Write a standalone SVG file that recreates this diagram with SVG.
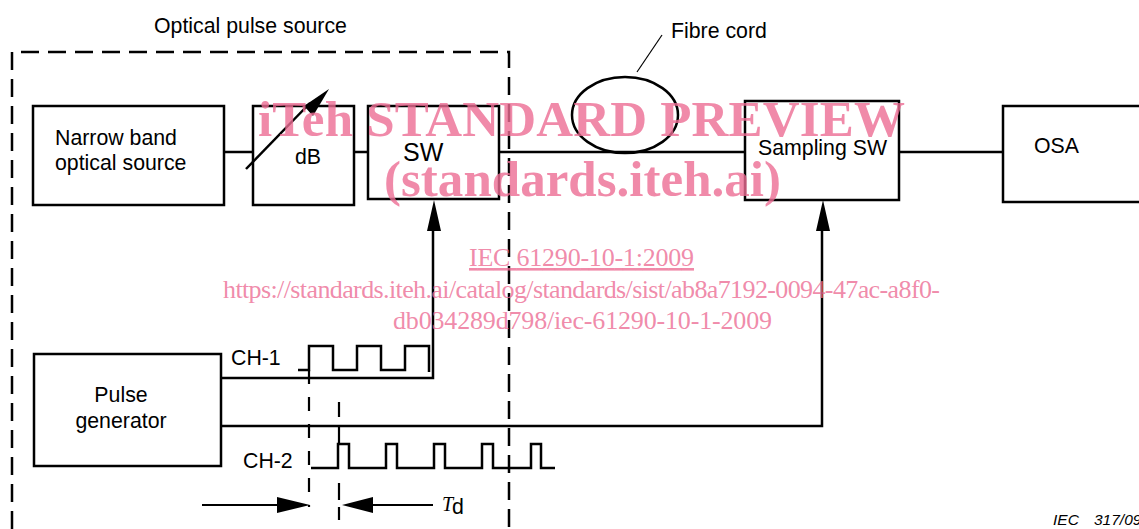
<svg xmlns="http://www.w3.org/2000/svg" width="1139" height="529" viewBox="0 0 1139 529">
<style>
text{font-family:"Liberation Sans",Arial,sans-serif;fill:#000;font-size:21.3px}
.box{fill:none;stroke:#000;stroke-width:2.5}
.line{fill:none;stroke:#000;stroke-width:2.5}
.dash{fill:none;stroke:#000;stroke-width:2.2}
.wm{font-family:"Liberation Serif",serif;fill:#ec6d94;fill-opacity:.8}
.big{font-size:51px;font-weight:bold}
.sm{font-size:26px}
.tip{fill:#000;stroke:none}
</style>
<rect width="1139" height="529" fill="#fff"/>
<g id="connectors">
<path class="line" d="M224 152H253M354 152H368M499 152H745M899 152H1003"/>
<path class="line" d="M221 378H433V228M221 426H822V228"/>
<path class="tip" d="M434 200L441 231H427ZM823 200L830 231H816Z"/>
<path class="line" d="M246 169L310 103"/>
<path class="tip" d="M329 89L313 116L304 106Z"/>
<path d="M637 72L662 35" fill="none" stroke="#000" stroke-width="1.2"/>
<path class="line" d="M298 370H309V346H333V370H357V346H381V370H405V346H429V372"/>
<path class="line" d="M311 468H338V444H349V468H386V444H397V468H434V444H445V468H482V444H493V468H531V444H541V468H555"/>
<path class="line" style="stroke-width:2" d="M202 505H280M433 505H372"/>
<path class="tip" d="M310 505L277 497V513ZM342 505L373 497V513Z"/>
<path class="dash" style="stroke-dasharray:14 13" d="M309 370V507"/>
<path class="dash" d="M339 402V417M339 427V444M339 483V500M339 507V520"/>
</g>
<g id="optical-pulse-source">
<path class="dash" style="stroke-width:2.5;stroke-dasharray:18 9" d="M12 529V52H509V529"/>
<text x="154" y="33">Optical pulse source</text>
</g>
<g id="narrow-band-source">
<rect class="box" x="33" y="106" width="191" height="99"/>
<text x="55" y="145">Narrow band</text>
<text x="55" y="170">optical source</text>
</g>
<g id="attenuator">
<rect class="box" x="253" y="106" width="101" height="99"/>
<text x="295" y="164">dB</text>
</g>
<g id="sw">
<rect class="box" x="368" y="106" width="131" height="93"/>
<text x="403" y="161" style="font-size:25px">SW</text>
</g>
<g id="fibre-cord">
<ellipse cx="625" cy="115" rx="53" ry="38" fill="none" stroke="#000" stroke-width="2.5"/>
<text x="671" y="38">Fibre cord</text>
</g>
<g id="sampling-sw">
<rect class="box" x="745" y="101" width="154" height="99"/>
<text x="758" y="155">Sampling SW</text>
</g>
<g id="osa">
<path class="box" d="M1139 106H1003V202H1139"/>
<text x="1034" y="153">OSA</text>
</g>
<g id="pulse-generator">
<rect class="box" x="34" y="354" width="187" height="112"/>
<text x="121" y="402" text-anchor="middle">Pulse</text>
<text x="121" y="428" text-anchor="middle">generator</text>
</g>
<g id="labels">
<text x="231" y="365">CH-1</text>
<text x="243" y="468">CH-2</text>
<text x="442" y="511" style="font-family:'Liberation Serif',serif;font-style:italic;font-size:20px">T</text>
<text x="452" y="514">d</text>
<text x="1053" y="525" style="font-size:15.5px;font-style:italic">IEC</text>
<text x="1094" y="525" style="font-size:15.5px;font-style:italic">317/09</text>
</g>
<g id="watermark">
<text class="wm big" x="258" y="136" textLength="647" lengthAdjust="spacing">iTeh STANDARD PREVIEW</text>
<text class="wm big" x="384" y="196" textLength="397" lengthAdjust="spacing">(standards.iteh.ai)</text>
<text class="wm sm" x="469" y="266" textLength="225" lengthAdjust="spacing" text-decoration="underline">IEC 61290-10-1:2009</text>
<text class="wm sm" x="223" y="298" textLength="717" lengthAdjust="spacing">https://standards.iteh.ai/catalog/standards/sist/ab8a7192-0094-47ac-a8f0-</text>
<text class="wm sm" x="393" y="329" textLength="379" lengthAdjust="spacing">db034289d798/iec-61290-10-1-2009</text>
</g>
</svg>
